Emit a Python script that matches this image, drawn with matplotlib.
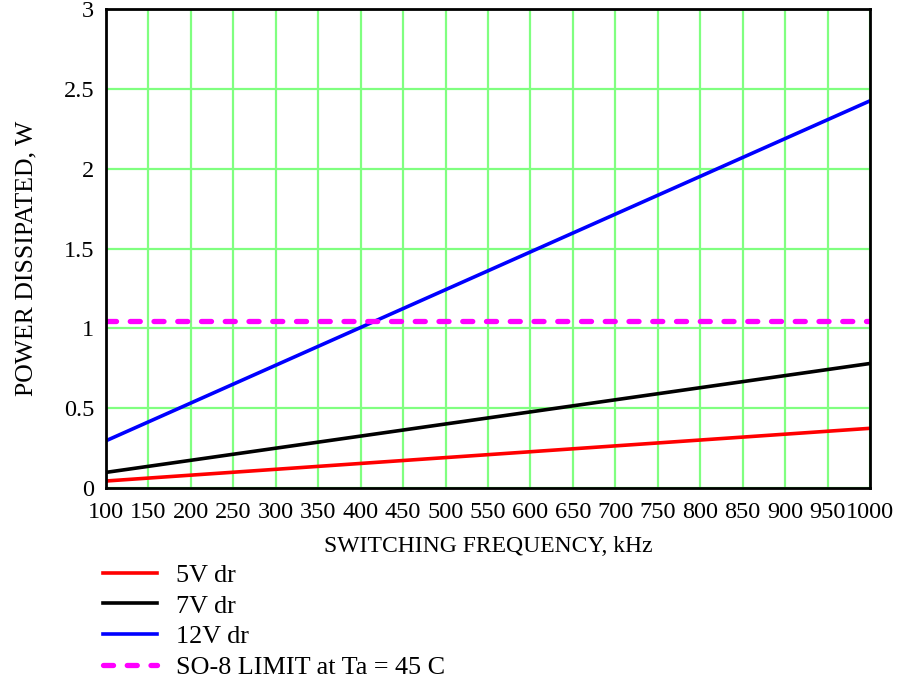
import matplotlib.pyplot as plt
import numpy as np

freq_khz = [100, 1000]
p_5v = [0.044, 0.374]
p_7v = [0.098, 0.78]
p_12v = [0.296, 2.425]
so8_limit = [1.048, 1.048]

x_ticks = np.arange(100, 1001, 50)
y_ticks = [0, 0.5, 1, 1.5, 2, 2.5, 3]


def main():
    plt.rcParams['font.family'] = ['Liberation Serif', 'DejaVu Serif']
    fig = plt.figure(figsize=(9.01, 6.84), dpi=100)
    ax = fig.add_axes([0.1176, 0.2865, 0.848, 0.7003])

    ax.grid(True, color='#80ff80', linewidth=1.6)
    ax.set_axisbelow(True)

    ax.plot(freq_khz, p_5v, color='red', lw=2.6, label='5V dr')
    ax.plot(freq_khz, p_7v, color='black', lw=2.6, label='7V dr')
    ax.plot(freq_khz, p_12v, color='blue', lw=2.6, label='12V dr')
    ax.plot(freq_khz, so8_limit, color='magenta', lw=3.8, ls=(0, (1.9, 2.6)),
            dash_capstyle='round', label='SO-8 LIMIT at Ta = 45 C')

    ax.set_xlim(100, 1000)
    ax.set_ylim(0, 3)
    ax.set_xticks(x_ticks)
    ax.set_yticks(y_ticks)
    ax.set_yticklabels(['0', '0.5', '1', '1.5', '2', '2.5', '3'])
    ax.tick_params(length=0, labelsize=17.5)
    ax.tick_params(axis='x', pad=10)
    ax.tick_params(axis='y', pad=8.5)
    for s in ax.spines.values():
        s.set_linewidth(2)

    ax.set_xlabel('SWITCHING FREQUENCY, kHz', fontsize=17, labelpad=9.5)
    ax.set_ylabel('POWER DISSIPATED, W', fontsize=18.5)
    ax.yaxis.set_label_coords(-0.09, 0.48)

    fig.legend(loc='upper left', bbox_to_anchor=(0.1143, 0.176), frameon=False,
               fontsize=18.8, handlelength=2.07, handletextpad=0.72,
               labelspacing=0.285, borderpad=0, borderaxespad=0)

    plt.savefig('out.png')
    plt.close()


if __name__ == '__main__':
    main()
